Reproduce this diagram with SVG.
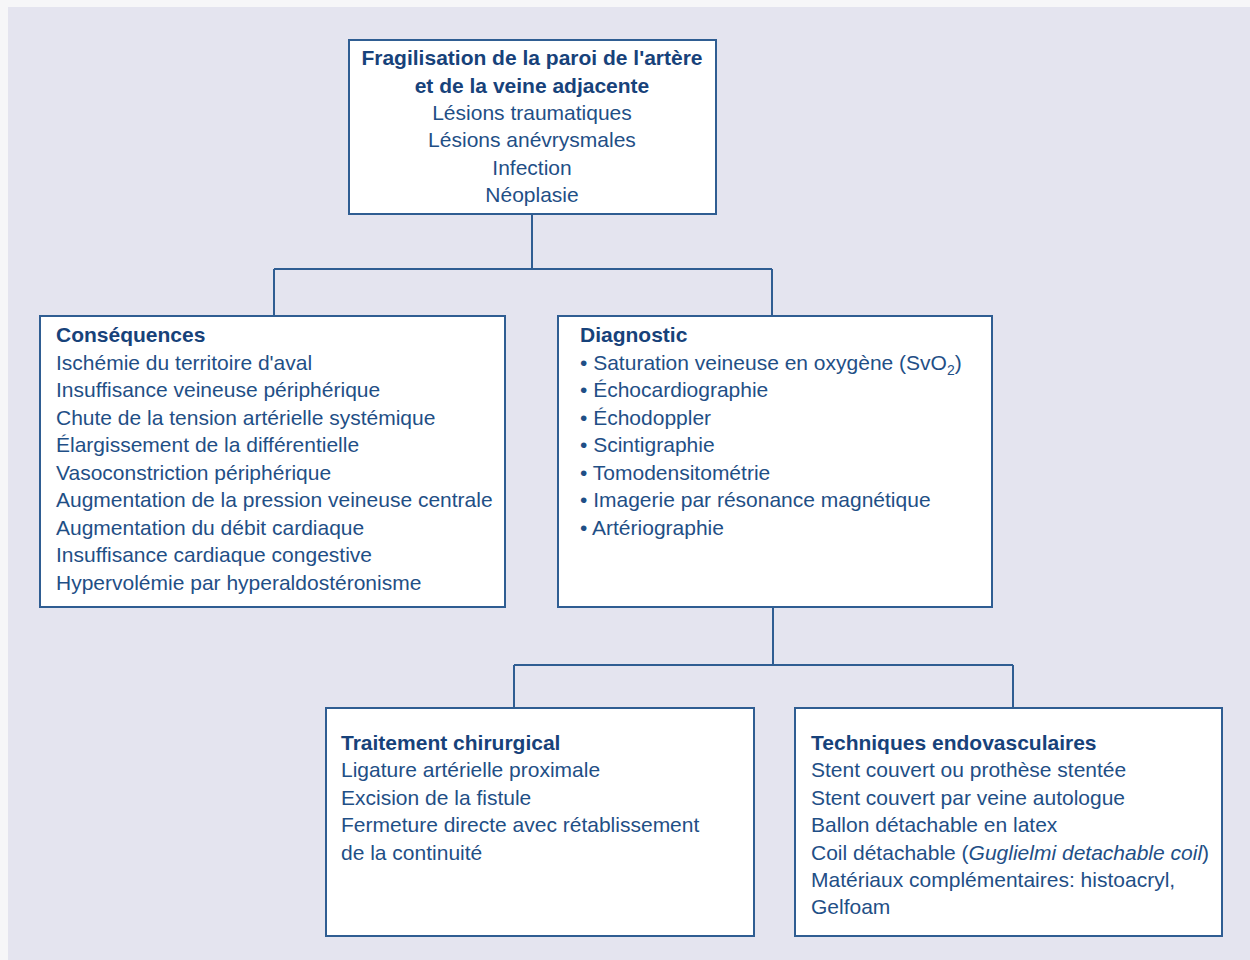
<svg xmlns="http://www.w3.org/2000/svg" width="1250" height="960" viewBox="0 0 1250 960">
<style>
.box{fill:#ffffff;stroke:#2f5d92;stroke-width:2}
.con{fill:none;stroke:#2f5d92;stroke-width:2}
text{font-family:"Liberation Sans",Arial,sans-serif;font-size:21px;fill:#1f4f86}
.t{font-weight:bold;fill:#17427a}
.c{text-anchor:middle}
</style>
<rect x="0" y="0" width="1250" height="960" fill="#f6f6f8"/>
<rect x="8" y="7" width="1242" height="953" fill="#e4e4ef"/>
<g id="connectors">
<path class="con" d="M532,214 V269 M274,269 H772 M274,269 V316 M772,269 V316"/>
<path class="con" d="M773,607 V665 M514,665 H1013 M514,665 V708 M1013,665 V708"/>
</g>
<g id="n-top">
<rect class="box" x="349" y="40" width="367" height="174"/>
<text class="t c" x="532" y="65">Fragilisation de la paroi de l'artère</text>
<text class="t c" x="532" y="92.5">et de la veine adjacente</text>
<text class="c" x="532" y="120">Lésions traumatiques</text>
<text class="c" x="532" y="147">Lésions anévrysmales</text>
<text class="c" x="532" y="175">Infection</text>
<text class="c" x="532" y="202">Néoplasie</text>
</g>
<g id="n-consequences">
<rect class="box" x="40" y="316" width="465" height="291"/>
<text class="t" x="56" y="342">Conséquences</text>
<text x="56" y="370">Ischémie du territoire d'aval</text>
<text x="56" y="397">Insuffisance veineuse périphérique</text>
<text x="56" y="425">Chute de la tension artérielle systémique</text>
<text x="56" y="452">Élargissement de la différentielle</text>
<text x="56" y="480">Vasoconstriction périphérique</text>
<text x="56" y="507">Augmentation de la pression veineuse centrale</text>
<text x="56" y="535">Augmentation du débit cardiaque</text>
<text x="56" y="562">Insuffisance cardiaque congestive</text>
<text x="56" y="590">Hypervolémie par hyperaldostéronisme</text>
</g>
<g id="n-diagnostic">
<rect class="box" x="558" y="316" width="434" height="291"/>
<text class="t" x="580" y="342">Diagnostic</text>
<text x="580" y="370">• Saturation veineuse en oxygène (SvO<tspan font-size="14" dy="5">2</tspan><tspan dy="-5">)</tspan></text>
<text x="580" y="397">• Échocardiographie</text>
<text x="580" y="425">• Échodoppler</text>
<text x="580" y="452">• Scintigraphie</text>
<text x="580" y="480">• Tomodensitométrie</text>
<text x="580" y="507">• Imagerie par résonance magnétique</text>
<text x="580" y="535">• Artériographie</text>
</g>
<g id="n-chirurgical">
<rect class="box" x="326" y="708" width="428" height="228"/>
<text class="t" x="341" y="750">Traitement chirurgical</text>
<text x="341" y="777">Ligature artérielle proximale</text>
<text x="341" y="805">Excision de la fistule</text>
<text x="341" y="832">Fermeture directe avec rétablissement</text>
<text x="341" y="860">de la continuité</text>
</g>
<g id="n-endovasculaire">
<rect class="box" x="795" y="708" width="427" height="228"/>
<text class="t" x="811" y="750">Techniques endovasculaires</text>
<text x="811" y="777">Stent couvert ou prothèse stentée</text>
<text x="811" y="805">Stent couvert par veine autologue</text>
<text x="811" y="832">Ballon détachable en latex</text>
<text x="811" y="860">Coil détachable (<tspan font-style="italic">Guglielmi detachable coil</tspan>)</text>
<text x="811" y="887">Matériaux complémentaires: histoacryl,</text>
<text x="811" y="914">Gelfoam</text>
</g>
</svg>
